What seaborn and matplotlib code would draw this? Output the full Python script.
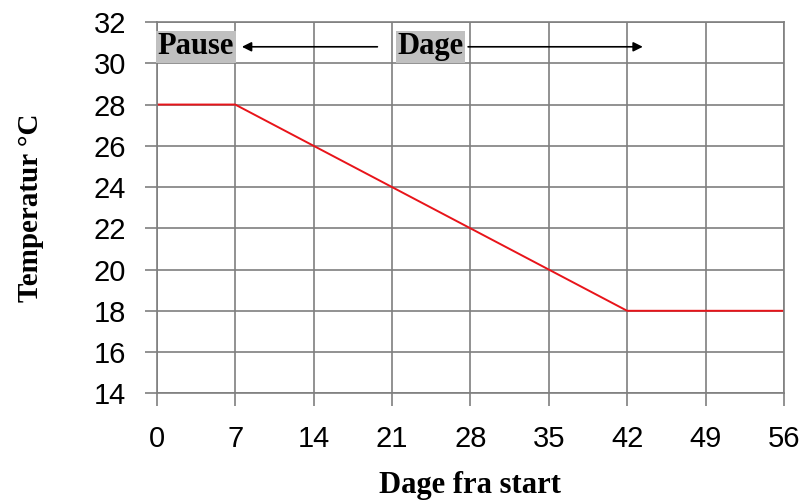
import pandas as pd
import matplotlib.pyplot as plt
import seaborn as sns

# 데이터
dage = [0, 7, 42, 56]
temperatur = [28, 28, 18, 18]
x_ticks = [0, 7, 14, 21, 28, 35, 42, 49, 56]
y_ticks = [14, 16, 18, 20, 22, 24, 26, 28, 30, 32]

df = pd.DataFrame({'Dage': dage, 'Temperatur': temperatur})

sns.set_style('white')
fig, ax = plt.subplots(figsize=(8.04, 5.01), dpi=100)
fig.subplots_adjust(left=0.195, right=0.975, top=0.956, bottom=0.215)

sns.lineplot(data=df, x='Dage', y='Temperatur', color='#e8141a', linewidth=1.4, ax=ax)

ax.set_xlim(0, 56)
ax.set_ylim(14, 32)
ax.set_xticks(x_ticks)
ax.set_yticks(y_ticks)
ax.grid(True, color='#7f7f7f', linewidth=1.2)
ax.set_axisbelow(True)
for s in ax.spines.values():
    s.set_color('#7f7f7f')
    s.set_linewidth(1.2)
ax.tick_params(axis='both', bottom=True, left=True, direction='out', length=9,
               width=1.2, color='#7f7f7f', labelsize=21, labelcolor='black')
ax.tick_params(axis='x', pad=14)
ax.tick_params(axis='y', pad=13)
for lab in ax.get_xticklabels() + ax.get_yticklabels():
    lab.set_family('Liberation Sans')

ax.set_xlabel('Dage fra start', family='Liberation Serif', fontweight='bold',
              fontsize=22, labelpad=13, color='black')
ax.set_ylabel('Temperatur °C', family='Liberation Serif', fontweight='bold',
              fontsize=21, labelpad=36, color='black')

# 화살표 주석
box = dict(boxstyle='square,pad=0.05', facecolor='#c0c0c0', edgecolor='none')
ax.text(0.1, 30.8, 'Pause', family='Liberation Serif', fontweight='bold',
        fontsize=22, va='center', ha='left', bbox=box, color='black')
ax.text(21.5, 30.8, 'Dage', family='Liberation Serif', fontweight='bold',
        fontsize=22, va='center', ha='left', bbox=box, color='black')
ax.annotate('', xy=(7.6, 30.8), xytext=(19.7, 30.8),
            arrowprops=dict(arrowstyle='-|>', color='black', lw=1.2,
                            mutation_scale=14, shrinkA=0, shrinkB=0))
ax.annotate('', xy=(43.4, 30.8), xytext=(27.8, 30.8),
            arrowprops=dict(arrowstyle='-|>', color='black', lw=1.2,
                            mutation_scale=14, shrinkA=0, shrinkB=0))

plt.savefig('out.png', dpi=100)
